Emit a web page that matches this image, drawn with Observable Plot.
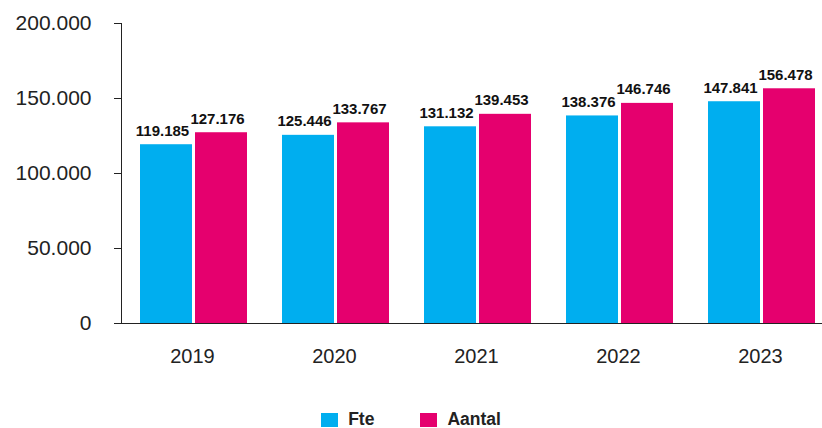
<!DOCTYPE html>
<html><head><meta charset="utf-8">
<script src="https://cdn.jsdelivr.net/npm/d3@7"></script>
<script src="https://cdn.jsdelivr.net/npm/@observablehq/plot@0.6"></script>
<style>
body{margin:0;background:#fff;font-family:"Liberation Sans",Arial,sans-serif;overflow:hidden;}
#chart svg{display:block;}
#legend{display:flex;justify-content:center;gap:46px;margin-top:11px;font-weight:bold;font-size:17.5px;color:#222;}
.item{display:flex;align-items:flex-start;gap:10px;height:16px;line-height:16px;}
.sw{width:17px;height:15px;margin-top:2px;}
</style></head><body><div id="chart"></div><div id="legend"></div>
<script>
const years = ["2019","2020","2021","2022","2023"];
const series = ["Fte","Aantal"];
const fte = [119185,125446,131132,138376,147841];
const aantal = [127176,133767,139453,146746,156478];
const colors = ["#00aeef","#e5006e"];
const yTicks = [0,50000,100000,150000,200000];

const data = years.flatMap((y,i)=>[
  {year:y, series:series[0], value:fte[i]},
  {year:y, series:series[1], value:aantal[i]}
]);
const fmt = d3.formatLocale({decimal:",",thousands:".",grouping:[3],currency:["€",""]}).format(",d");

const plot = Plot.plot({
  width:822, height:400,
  marginLeft:120, marginRight:-10, marginTop:23, marginBottom:77,
  style:{fontFamily:"'Liberation Sans', Arial, sans-serif", color:"#222", background:"transparent"},
  fx:{domain:years, paddingInner:0, paddingOuter:0, label:null},
  x:{domain:series, paddingInner:0.0536, paddingOuter:0.3, align:0.55, axis:null},
  y:{domain:[0,200000], label:null},
  color:{domain:series, range:colors},
  marks:[
    Plot.barY(data,{fx:"year", x:"series", y:"value", fill:"series"}),
    Plot.text(data,{fx:"year", x:"series", y:"value", text:d=>fmt(d.value), lineAnchor:"bottom", dy:-9, dx:-4, fontSize:15, fontWeight:"bold", fill:"#111"}),
    Plot.axisY({ticks:yTicks, tickFormat:fmt, tickSize:7, tickPadding:23, fontSize:21, label:null}),
    Plot.axisFx({anchor:"bottom", tickSize:0, tickPadding:25, fontSize:20, label:null}),
    Plot.frame({anchor:"bottom", facet:"super", stroke:"#222"}),
    Plot.frame({anchor:"left", facet:"super", stroke:"#222"})
  ]
});
document.getElementById("chart").append(plot);

const legend = document.getElementById("legend");
series.forEach((s,i)=>{
  const it = document.createElement("div"); it.className="item";
  const sw = document.createElement("div"); sw.className="sw"; sw.style.background=colors[i];
  const t = document.createElement("span"); t.textContent=s;
  it.append(sw,t); legend.append(it);
});
</script></body></html>
